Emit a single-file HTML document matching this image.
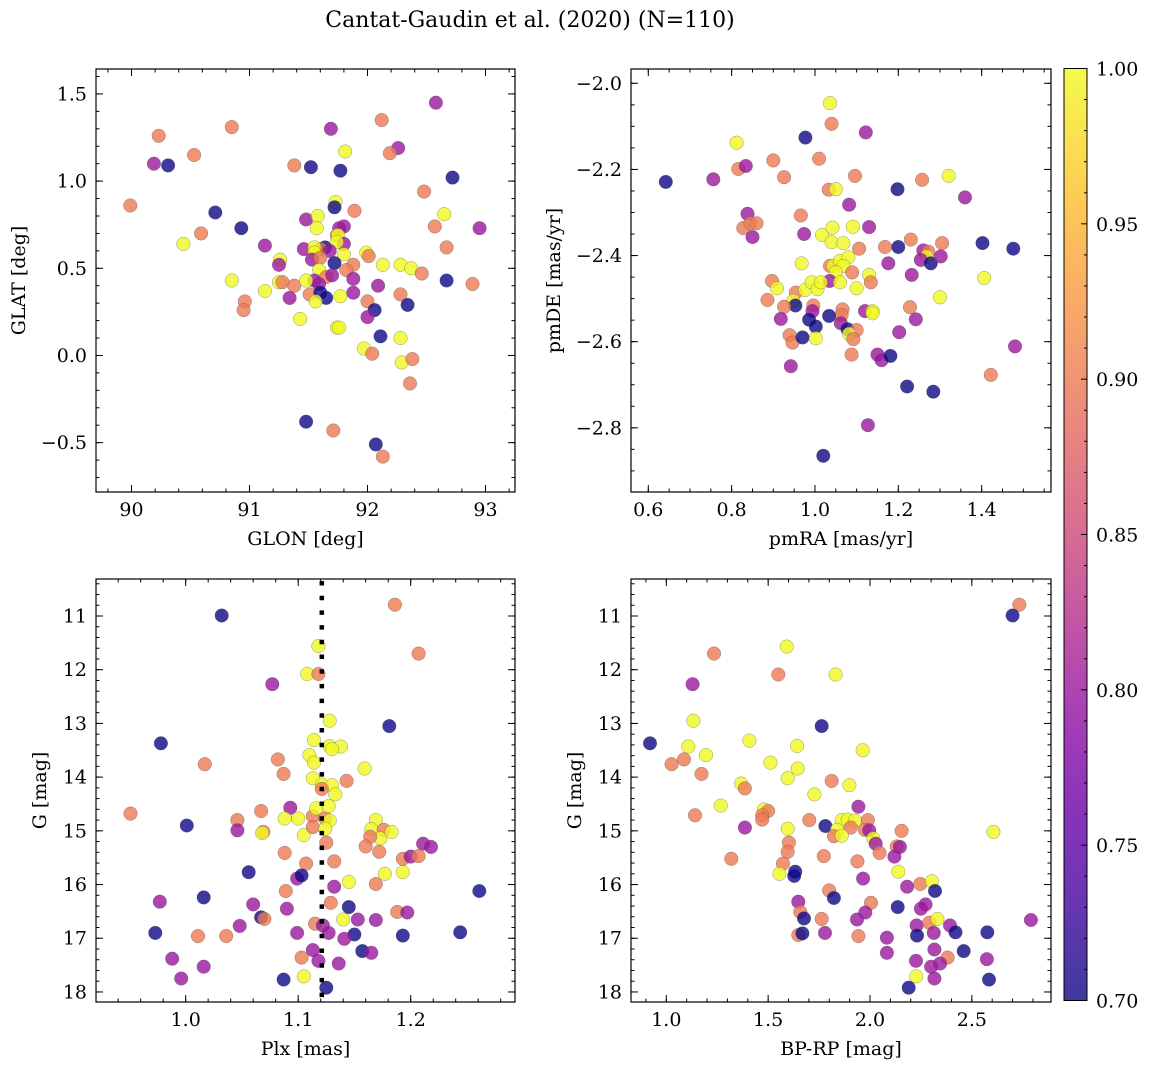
<!DOCTYPE html>
<html><head><meta charset="utf-8"><style>
html,body{margin:0;padding:0;background:#fff;}
svg{display:block;font-family:"DejaVu Serif","Liberation Serif",serif;}
</style></head><body>
<svg id="fig" width="1149" height="1068" viewBox="0 0 1149 1068" xmlns="http://www.w3.org/2000/svg">
<defs><linearGradient id="plasma" x1="0" y1="1" x2="0" y2="0">
<stop offset="0" stop-color="#0d0887"/><stop offset="0.1" stop-color="#41049d"/><stop offset="0.2" stop-color="#6a00a8"/><stop offset="0.3" stop-color="#8f0da4"/><stop offset="0.4" stop-color="#b12a90"/><stop offset="0.5" stop-color="#cc4778"/><stop offset="0.6" stop-color="#e16462"/><stop offset="0.7" stop-color="#f2844b"/><stop offset="0.8" stop-color="#fca636"/><stop offset="0.9" stop-color="#fcce25"/><stop offset="1" stop-color="#f0f921"/></linearGradient></defs>
<text x="530" y="27" font-size="22" text-anchor="middle">Cantat-Gaudin et al. (2020) (N=110)</text>
</svg>
<script>
// Panel 1: GLON vs GLAT
const p1Glon=[92.58,92.12,91.69,90.85,90.23,90.53,90.19,90.31,91.38,91.52,91.77,91.81,92.26,92.19,92.72,92.48,89.99,90.71,90.93,90.59,90.44,92.65,92.57,92.95,92.67,91.73,91.72,91.89,91.48,91.58,91.57,91.80,91.76,91.74,91.75,91.80,91.74,91.13,91.46,91.64,91.60,91.55,91.55,91.68,91.80,91.99,92.01,91.26,91.25,91.53,91.60,91.72,91.88,92.13,92.28,92.37,92.46,92.67,92.89,91.82,91.59,91.55,91.65,91.70,91.88,92.09,90.85,91.25,91.28,91.38,91.48,91.59,91.13,91.34,91.51,91.60,91.65,91.56,91.77,91.88,92.28,90.96,90.95,92.00,92.06,92.34,91.43,92.00,91.74,91.76,92.11,92.28,91.97,92.04,92.29,92.38,92.36,91.48,91.71,92.07,92.13];
const p1Glat=[1.45,1.35,1.30,1.31,1.26,1.15,1.10,1.09,1.09,1.08,1.06,1.17,1.19,1.16,1.02,0.94,0.86,0.82,0.73,0.70,0.64,0.81,0.74,0.73,0.62,0.88,0.85,0.83,0.78,0.80,0.73,0.74,0.73,0.69,0.69,0.64,0.65,0.63,0.61,0.62,0.61,0.62,0.59,0.60,0.58,0.59,0.57,0.55,0.52,0.55,0.56,0.53,0.52,0.52,0.52,0.50,0.47,0.43,0.41,0.49,0.49,0.43,0.45,0.46,0.44,0.40,0.43,0.42,0.42,0.40,0.43,0.41,0.37,0.33,0.35,0.36,0.33,0.31,0.34,0.36,0.35,0.31,0.26,0.31,0.26,0.29,0.21,0.22,0.16,0.16,0.11,0.10,0.04,0.01,-0.04,-0.02,-0.16,-0.38,-0.43,-0.51,-0.58];
const p1Prob=[.8,.9,.8,.9,.9,.9,.8,.7,.9,.7,.7,1,.8,.9,.7,.9,.9,.7,.7,.9,1,1,.9,.8,.9,1,.7,.9,.8,1,1,.8,.8,.9,1,.8,1,.8,.8,.7,.9,1,1,.8,1,1,.9,1,.8,.8,.9,.7,.9,1,1,1,.9,.7,.9,.9,1,.8,.9,.8,.8,.8,1,1,.9,.9,1,.8,1,.8,.9,.7,.7,1,1,.8,.9,.9,.9,.9,.7,.7,1,.8,1,1,.7,1,1,.9,1,.9,.9,.7,.9,.7,.9];
// Panel 2: pmRA vs pmDE
const p2Pmra=[1.036,1.04,0.977,1.122,0.812,0.90,1.01,0.816,0.834,0.642,0.756,0.926,1.096,1.033,1.05,1.198,1.257,1.321,1.36,1.082,0.838,0.828,0.845,0.86,0.85,0.966,0.974,1.017,1.042,1.04,1.068,1.091,1.13,1.106,1.168,1.2,1.23,1.305,1.402,1.476,1.26,1.272,1.268,1.254,1.278,1.302,1.176,1.232,0.968,1.036,1.044,1.06,1.08,1.068,1.05,1.089,1.035,1.06,1.13,1.134,1.406,0.897,0.909,0.954,0.976,0.992,1.006,1.014,1.1,0.886,0.948,0.953,0.926,0.996,1.30,1.228,1.066,1.064,1.034,0.994,1.12,1.138,1.138,1.242,0.918,0.986,1.002,1.062,1.078,1.10,1.082,1.092,1.202,0.939,0.946,0.97,1.002,1.48,1.088,1.15,1.16,1.181,0.942,1.422,1.221,1.284,1.127,1.02];
const p2Pmde=[-2.046,-2.094,-2.126,-2.114,-2.138,-2.179,-2.175,-2.199,-2.192,-2.229,-2.223,-2.218,-2.215,-2.247,-2.246,-2.246,-2.224,-2.215,-2.265,-2.282,-2.303,-2.336,-2.325,-2.325,-2.357,-2.307,-2.350,-2.352,-2.335,-2.369,-2.371,-2.333,-2.334,-2.384,-2.380,-2.380,-2.363,-2.371,-2.371,-2.384,-2.388,-2.391,-2.402,-2.410,-2.418,-2.402,-2.418,-2.445,-2.418,-2.424,-2.424,-2.412,-2.404,-2.424,-2.439,-2.439,-2.459,-2.462,-2.445,-2.462,-2.452,-2.459,-2.476,-2.486,-2.480,-2.462,-2.478,-2.462,-2.476,-2.503,-2.505,-2.516,-2.519,-2.516,-2.497,-2.520,-2.525,-2.538,-2.540,-2.529,-2.529,-2.529,-2.534,-2.548,-2.547,-2.549,-2.565,-2.557,-2.571,-2.573,-2.582,-2.594,-2.578,-2.585,-2.602,-2.590,-2.592,-2.611,-2.630,-2.630,-2.643,-2.633,-2.657,-2.677,-2.704,-2.716,-2.794,-2.865];
const p2Prob=[1,.9,.7,.8,1,.9,.9,.9,.8,.7,.8,.9,.9,.9,1,.7,.9,1,.8,.8,.8,.9,.9,.9,.8,.9,.8,1,1,1,1,1,.8,.9,.9,.7,.9,.9,.7,.7,.8,.9,1,.8,.7,.8,.8,.8,1,.9,1,1,1,1,1,.9,.8,1,1,.9,1,.9,1,.9,1,1,1,1,1,.9,1,.7,.9,.9,1,.9,.9,.9,.7,.8,.8,1,1,.8,.8,.7,.7,.8,.7,.9,1,.9,.8,.9,.9,.7,1,.8,.9,.8,.8,.7,.8,.9,.7,.7,.8,.7];
// Panel 3: Plx vs G
const p3Plx=[1.032,1.186,1.207,1.118,1.108,1.118,1.077,1.128,1.181,0.978,1.114,1.128,1.138,1.13,1.11,1.114,1.017,1.082,1.087,1.159,1.113,1.121,1.13,1.133,1.143,1.121,0.951,1.001,1.046,1.046,1.067,1.069,1.068,1.093,1.088,1.10,1.105,1.113,1.113,1.116,1.124,1.128,1.124,1.127,1.125,1.169,1.165,1.176,1.173,1.183,1.164,1.16,1.172,1.211,1.218,1.193,1.20,1.207,1.088,1.107,1.132,1.056,1.099,1.103,1.177,1.193,1.145,1.132,1.169,1.261,1.089,0.977,1.016,1.06,1.09,1.129,1.145,1.188,1.197,1.067,1.07,1.153,1.169,1.14,1.048,1.115,1.122,1.127,1.099,0.973,1.011,1.036,1.15,1.193,1.244,1.141,1.113,1.157,1.165,0.988,1.103,1.118,1.136,1.016,0.996,1.087,1.105,1.125];
const p3G=[10.99,10.79,11.70,11.56,12.08,12.08,12.27,12.95,13.05,13.37,13.31,13.42,13.43,13.48,13.59,13.73,13.76,13.67,13.94,13.84,14.02,14.14,14.15,14.32,14.07,14.22,14.68,14.90,14.80,14.99,14.63,15.02,15.04,14.57,14.77,14.77,15.08,14.73,14.93,14.58,14.77,14.81,14.96,14.54,15.22,14.80,14.97,14.98,15.14,15.02,15.11,15.29,15.39,15.24,15.30,15.52,15.48,15.47,15.41,15.61,15.57,15.77,15.89,15.83,15.80,15.77,15.95,16.04,15.99,16.12,16.12,16.32,16.24,16.37,16.45,16.34,16.42,16.51,16.52,16.61,16.64,16.65,16.66,16.65,16.77,16.73,16.76,16.90,16.90,16.90,16.96,16.96,16.93,16.95,16.89,17.01,17.22,17.24,17.27,17.38,17.36,17.42,17.47,17.53,17.75,17.77,17.71,17.92];
const p3Prob=[.7,.9,.9,1,1,.9,.8,1,.7,.7,1,1,1,1,1,1,.9,.9,.9,1,1,1,1,1,.9,.9,.9,.7,.9,.8,.9,.9,1,.8,1,1,1,.9,.9,1,.9,1,1,1,.9,1,1,.9,1,1,.9,.9,.9,.8,.8,.9,.8,.9,.9,.9,.9,.7,.8,.7,1,1,1,.8,.9,.7,.9,.8,.7,.8,.8,.9,.7,.9,.8,.7,.9,.8,.8,1,.8,.9,.8,.8,.8,.7,.9,.9,.7,.7,.7,.8,.8,.7,.8,.8,.9,.8,.8,.8,.8,.7,1,.7];
const p3PlxRef=1.121;
// Panel 4: BP-RP vs G
const p4Color=[2.733,2.70,1.234,1.591,1.55,1.831,1.129,1.133,1.763,0.92,1.108,1.195,1.408,1.642,1.964,1.026,1.087,1.173,1.511,1.645,1.596,1.367,1.386,1.812,1.899,1.727,1.943,1.267,1.141,1.48,1.50,1.471,1.471,1.702,1.596,1.386,1.781,1.861,1.89,1.926,1.989,1.906,1.838,1.823,1.861,1.975,1.996,2.016,2.028,2.047,2.155,2.131,2.147,2.12,2.606,1.602,1.596,1.773,1.319,1.573,1.938,1.555,1.633,1.628,2.139,1.966,2.182,2.247,2.304,2.319,1.799,1.823,2.005,1.648,2.136,2.273,2.25,1.977,1.658,1.676,1.763,1.936,2.229,2.291,2.331,2.393,2.79,1.648,1.668,1.779,1.943,2.231,2.313,2.42,2.576,2.083,2.083,2.316,2.46,2.574,2.226,2.381,2.344,2.30,2.227,2.316,2.584,2.19];
const p4G=[10.79,10.99,11.70,11.57,12.09,12.09,12.27,12.95,13.05,13.37,13.43,13.59,13.32,13.42,13.50,13.76,13.67,13.94,13.73,13.84,14.02,14.12,14.21,14.07,14.15,14.32,14.55,14.53,14.71,14.60,14.63,14.71,14.79,14.80,14.96,14.94,14.91,14.80,14.79,14.81,14.80,14.94,14.98,15.10,15.09,14.98,14.99,15.14,15.24,15.41,15.00,15.29,15.30,15.48,15.02,15.22,15.39,15.47,15.52,15.61,15.57,15.80,15.76,15.84,15.76,15.89,16.04,15.99,15.94,16.12,16.11,16.25,16.34,16.32,16.42,16.37,16.45,16.52,16.51,16.63,16.64,16.65,16.76,16.71,16.64,16.76,16.66,16.94,16.91,16.90,16.96,16.95,16.90,16.89,16.89,16.99,17.27,17.21,17.24,17.39,17.42,17.36,17.47,17.53,17.71,17.75,17.77,17.92];
const p4Prob=[.9,.7,.9,1,.9,1,.8,1,.7,.7,1,1,1,1,1,.9,.9,.9,1,1,1,1,.9,.9,1,1,.8,1,.9,1,.9,.9,.9,.9,1,.8,.7,1,1,1,.9,.9,1,.9,1,.9,.8,1,.8,.9,.9,.9,.8,.8,1,.9,.9,.9,.9,.9,.9,1,.7,.7,1,.8,.8,.9,1,.7,.9,.7,.9,.8,.7,.8,.8,.8,.9,.7,.9,.8,.8,.9,1,.8,.8,.9,.7,.8,.9,.7,.8,.7,.7,.8,.8,.8,.7,.8,.8,.9,.8,.8,1,.8,.7,.7];
// Colorbar
const cbTicks=[0.70,0.75,0.80,0.85,0.90,0.95,1.00];

const NS="http://www.w3.org/2000/svg";
const svg=document.getElementById('fig');
const FS=19;
function el(tag,attrs,parent){const e=document.createElementNS(NS,tag);for(const k in attrs)e.setAttribute(k,attrs[k]);(parent||svg).appendChild(e);return e;}
const stops=["#0d0887","#41049d","#6a00a8","#8f0da4","#b12a90","#cc4778","#e16462","#f2844b","#fca636","#fcce25","#f0f921"];
function hex(h){return[parseInt(h.substr(1,2),16),parseInt(h.substr(3,2),16),parseInt(h.substr(5,2),16)];}
function plasma(t){t=Math.max(0,Math.min(1,t));const f=t*10,i=Math.min(9,Math.floor(f)),r=f-i;const a=hex(stops[i]),b=hex(stops[i+1]);return 'rgb('+a.map((v,k)=>Math.round(v+(b[k]-v)*r)).join(',')+')';}
const vmin=0.7,vmax=1.0;
function fmt(v,d){const s=v.toFixed(d);return v<0?'\u2212'+s.slice(1):s;}

function panel(o){
  const g=el('g',{});
  
  
  const sx=v=>o.L+(v-o.x0)/(o.x1-o.x0)*(o.R-o.L);
  const sy=v=>o.B-(v-o.y0)/(o.y1-o.y0)*(o.B-o.T);
  const pg=el('g',{},g);
  
  
  for(let i=0;i<o.xs.length;i++){
    const c=el('circle',{cx:sx(o.xs[i]).toFixed(1),cy:sy(o.ys[i]).toFixed(1),r:6.8,fill:plasma((o.cs[i]-vmin)/(vmax-vmin)),'fill-opacity':0.8,stroke:'#555','stroke-opacity':0.6,'stroke-width':0.5},pg);
    
    
  }
  if(o.extra) o.extra(g,sx,sy);
  const fr=el('rect',{x:o.L,y:o.T,width:o.R-o.L,height:o.B-o.T,fill:'none',stroke:'#000','stroke-width':1.2},g);
  
  
  const eps=1e-9;
  function ticksX(step,len,labels){
    const s=Math.ceil((o.x0-eps)/step);
    for(let k=s;k*step<=o.x1+eps;k++){const v=k*step,x=sx(v);
      el('line',{x1:x,y1:o.B,x2:x,y2:o.B-len,stroke:'#000','stroke-width':1},g);
      el('line',{x1:x,y1:o.T,x2:x,y2:o.T+len,stroke:'#000','stroke-width':1},g);
      if(labels){const t=el('text',{x:x,y:o.B+24,'font-size':FS,'text-anchor':'middle'},g);t.textContent=fmt(v,o.xd);
        
        }
    }
  }
  function ticksY(step,len,labels){
    const a=Math.min(o.y0,o.y1),b=Math.max(o.y0,o.y1);
    const s=Math.ceil((a-eps)/step);
    for(let k=s;k*step<=b+eps;k++){const v=k*step,y=sy(v);
      el('line',{x1:o.L,y1:y,x2:o.L+len,y2:y,stroke:'#000','stroke-width':1},g);
      el('line',{x1:o.R,y1:y,x2:o.R-len,y2:y,stroke:'#000','stroke-width':1},g);
      if(labels){const t=el('text',{x:o.L-9,y:y+6.5,'font-size':FS,'text-anchor':'end'},g);t.textContent=fmt(v,o.yd);
        
        }
    }
  }
  ticksX(o.xmaj,7,true);ticksX(o.xmin,3.5,false);
  ticksY(o.ymaj,7,true);ticksY(o.ymin,3.5,false);
  const xl=el('text',{x:(o.L+o.R)/2,y:o.B+53,'font-size':FS,'text-anchor':'middle'},g);xl.textContent=o.xlabel;
  
  
  const yl=el('text',{x:0,y:0,'font-size':FS,'text-anchor':'middle',transform:'translate('+o.ylx+','+((o.T+o.B)/2)+') rotate(-90)'},g);yl.textContent=o.ylabel;
  
  
}

panel({name:'glon-glat-panel',L:96,R:515,T:69,B:492,x0:89.699,x1:93.250,y0:-0.783,y1:1.643,xs:p1Glon,ys:p1Glat,cs:p1Prob,xmaj:1,xmin:0.2,ymaj:0.5,ymin:0.1,xd:0,yd:1,xlabel:'GLON [deg]',ylabel:'GLAT [deg]',ylx:25});
panel({name:'pm-panel',L:631,R:1051,T:69,B:492,x0:0.5585,x1:1.5664,y0:-2.949,y1:-1.9668,xs:p2Pmra,ys:p2Pmde,cs:p2Prob,xmaj:0.2,xmin:0.05,ymaj:0.2,ymin:0.05,xd:1,yd:1,xlabel:'pmRA [mas/yr]',ylabel:'pmDE [mas/yr]',ylx:560});
panel({name:'plx-g-panel',L:96,R:515,T:579,B:1002,x0:0.9203,x1:1.2927,y0:18.187,y1:10.311,xs:p3Plx,ys:p3G,cs:p3Prob,xmaj:0.1,xmin:0.02,ymaj:1,ymin:0.2,xd:1,yd:0,xlabel:'Plx [mas]',ylabel:'G [mag]',ylx:46,
  extra:(g,sx,sy)=>{const l=el('line',{x1:sx(p3PlxRef),y1:581,x2:sx(p3PlxRef),y2:1001,stroke:'#000','stroke-width':4.5,'stroke-dasharray':'4.5,10.2'},g);
    
    }});
panel({name:'cmd-panel',L:631,R:1051,T:579,B:1002,x0:0.8267,x1:2.8886,y0:18.187,y1:10.311,xs:p4Color,ys:p4G,cs:p4Prob,xmaj:0.5,xmin:0.1,ymaj:1,ymin:0.2,xd:1,yd:0,xlabel:'BP-RP [mag]',ylabel:'G [mag]',ylx:581});

const cb=el('g',{});


const cT=68.5,cB=1000.5,cL=1064,cR=1087;
const cyv=v=>cB-(v-vmin)/(vmax-vmin)*(cB-cT);
el('rect',{x:cL,y:cT,width:cR-cL,height:cB-cT,fill:'url(#plasma)','fill-opacity':0.8,stroke:'#000','stroke-width':1},cb);
for(let k=70;k<=100;k++){const y=cyv(k/100);const len=(k%5===0)?6:3;
  el('line',{x1:cR,y1:y,x2:cR-len,y2:y,stroke:'#000','stroke-width':1},cb);}
cbTicks.forEach(v=>{const t=el('text',{x:1096,y:cyv(v)+7,'font-size':FS,'text-anchor':'start'},cb);t.textContent=v.toFixed(2);
  
  });
</script>
</body></html>
